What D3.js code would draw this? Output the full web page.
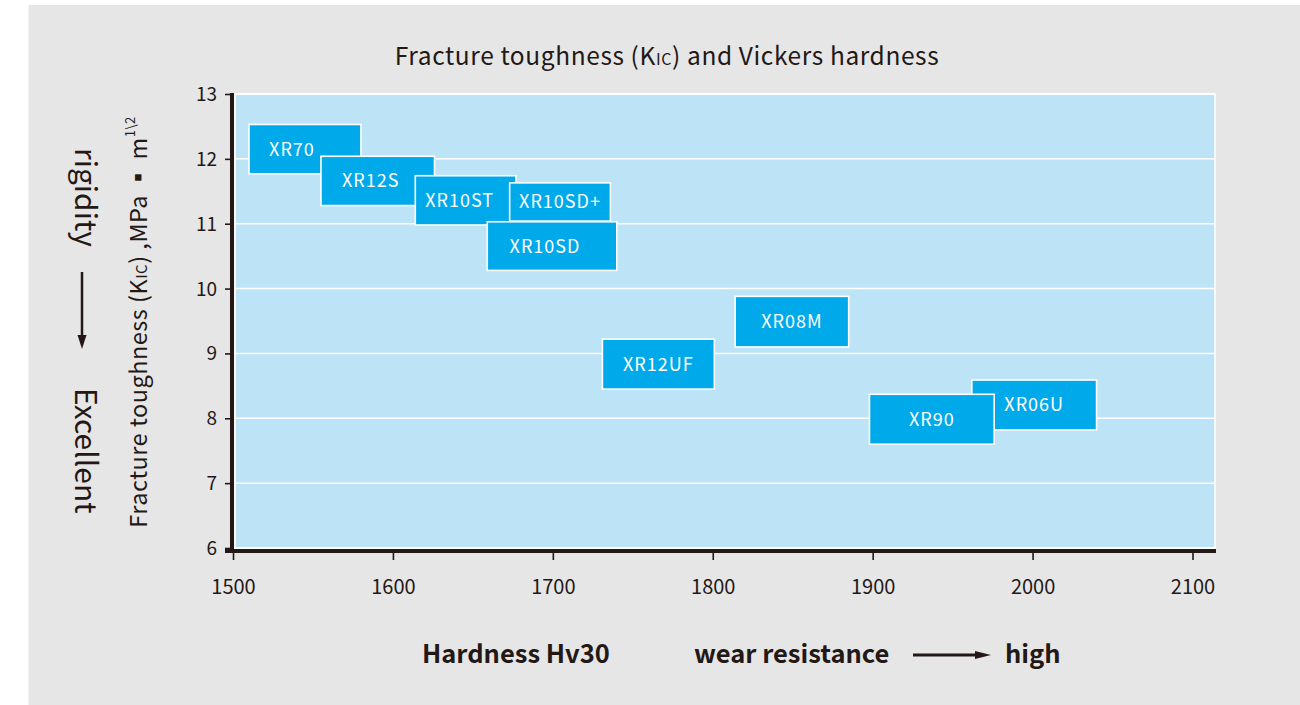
<!DOCTYPE html>
<html>
<head>
<meta charset="utf-8">
<script src="https://cdn.jsdelivr.net/npm/d3@7"></script>
<style>
  html, body { margin: 0; padding: 0; background: #ffffff; }
  svg { display: block; }
  text { font-family: "Noto Sans CJK SC", "Noto Sans", sans-serif; }
</style>
</head>
<body>
<svg id="chart" width="1300" height="705"></svg>
<script>
// ---------------- data ----------------
const grades   = ["XR70", "XR12S", "XR10ST", "XR10SD+", "XR10SD", "XR12UF", "XR08M", "XR06U", "XR90"];
const hvLow    = [1510, 1555, 1614, 1673, 1659, 1731, 1814, 1962, 1898];
const hvHigh   = [1580, 1626, 1677, 1736, 1740, 1801, 1885, 2040, 1976];
const kicLow   = [11.77, 11.28, 10.98, 11.04, 10.28, 8.45, 9.10, 7.82, 7.60];
const kicHigh  = [12.53, 12.04, 11.74, 11.63, 11.03, 9.22, 9.88, 8.59, 8.37];
const xTicks   = [1500, 1600, 1700, 1800, 1900, 2000, 2100];
const yTicks   = [6, 7, 8, 9, 10, 11, 12, 13];

// ---------------- layout / style ----------------
const labelNudge = { "XR70": -13, "XR12S": -7, "XR10ST": -6, "XR10SD": -7 };
const C = {
  panel: "#e6e6e6", plot: "#bde3f7", box: "#00a9ea", ink: "#231815", grid: "#ffffff"
};

const svg = d3.select("#chart");
svg.append("rect").attr("x", 28.5).attr("y", 5).attr("width", 1271.5).attr("height", 700).attr("fill", C.panel);

const x = d3.scaleLinear().domain([1500, 2100]).range([233, 1192.5]);
const y = d3.scaleLinear().domain([6, 13]).range([548, 94]);
const plotRight = 1215;

// plot background
svg.append("rect")
  .attr("x", x(1500) + 2).attr("y", y(13))
  .attr("width", plotRight - x(1500) - 2).attr("height", y(6) - y(13))
  .attr("fill", C.plot).attr("stroke", C.grid).attr("stroke-width", 1.5);

// horizontal grid lines
svg.append("g").selectAll("line").data(yTicks).join("line")
  .attr("x1", x(1500)).attr("x2", plotRight)
  .attr("y1", d => y(d)).attr("y2", d => y(d))
  .attr("stroke", C.grid).attr("stroke-width", 1.5);

// boxes
const recs = grades.map((g, i) => ({ g, h0: hvLow[i], h1: hvHigh[i], k0: kicLow[i], k1: kicHigh[i] }));
const boxG = svg.append("g");
recs.forEach(r => {
  const gg = boxG.append("g");
  gg.append("rect")
    .attr("x", x(r.h0)).attr("y", y(r.k1))
    .attr("width", x(r.h1) - x(r.h0)).attr("height", y(r.k0) - y(r.k1))
    .attr("fill", C.box).attr("stroke", "#ffffff").attr("stroke-width", 1.6);
  gg.append("text")
    .attr("x", (x(r.h0) + x(r.h1)) / 2 + (labelNudge[r.g] || 0))
    .attr("y", (y(r.k0) + y(r.k1)) / 2)
    .attr("dy", "0.36em")
    .attr("text-anchor", "middle")
    .attr("fill", "#ffffff")
    .attr("font-size", 18)
    .attr("letter-spacing", 1)
    .text(r.g);
});

// axes
const xAxis = d3.axisBottom(x).tickValues(xTicks).tickSize(7).tickFormat(d3.format("d"));
const xg = svg.append("g").attr("transform", "translate(0,553)").call(xAxis);
xg.select(".domain").remove();
xg.selectAll(".tick line").attr("stroke", C.ink).attr("stroke-width", 1.6);
xg.selectAll(".tick text").attr("fill", C.ink).attr("font-size", 20).attr("y", 41).attr("dy", 0)
  .style("font-family", "'Noto Sans CJK SC', sans-serif");

const yAxis = d3.axisLeft(y).tickValues(yTicks).tickSize(7).tickFormat(d3.format("d"));
const yg = svg.append("g").attr("transform", "translate(232,0)").call(yAxis);
yg.select(".domain").remove();
yg.selectAll(".tick line").attr("stroke", C.ink).attr("stroke-width", 1.6);
yg.selectAll(".tick text").attr("fill", C.ink).attr("font-size", 19).attr("x", -15).attr("dy", "0.34em")
  .style("font-family", "'Noto Sans CJK SC', sans-serif");

// axis lines
svg.append("line").attr("x1", 232).attr("x2", 232).attr("y1", y(13) - 1).attr("y2", 553)
  .attr("stroke", C.ink).attr("stroke-width", 4);
svg.append("line").attr("x1", 225).attr("x2", plotRight + 1).attr("y1", 551).attr("y2", 551)
  .attr("stroke", C.ink).attr("stroke-width", 4);

// title
const title = svg.append("text").attr("x", 667).attr("y", 65).attr("text-anchor", "middle")
  .attr("fill", C.ink).attr("font-size", 24.5).attr("letter-spacing", 0.6);
title.append("tspan").text("Fracture toughness (K");
title.append("tspan").attr("font-size", 16).text("IC");
title.append("tspan").text(") and Vickers hardness");

// y axis title
const yt = svg.append("text").attr("transform", "translate(147,322) rotate(-90)")
  .attr("text-anchor", "middle").attr("fill", C.ink).attr("font-size", 23.5).attr("letter-spacing", 0.5);
yt.append("tspan").text("Fracture toughness (K");
yt.append("tspan").attr("font-size", 15).text("IC");
yt.append("tspan").text(") ,MPa ▪ m");
yt.append("tspan").attr("font-size", 13).attr("dy", -12).text("1\\2");

// left side note
svg.append("text").attr("transform", "translate(75,148) rotate(90)")
  .attr("fill", C.ink).attr("font-size", 30).attr("font-weight", 400).text("rigidity");
svg.append("text").attr("transform", "translate(75,388) rotate(90)")
  .attr("fill", C.ink).attr("font-size", 30).attr("font-weight", 400).text("Excellent");

// arrows
svg.append("line").attr("x1", 82).attr("x2", 82).attr("y1", 272).attr("y2", 337)
  .attr("stroke", C.ink).attr("stroke-width", 2.5);
svg.append("path").attr("d", "M77.5,335 L86.5,335 L82,349 Z").attr("fill", C.ink);

svg.append("line").attr("x1", 913).attr("x2", 977).attr("y1", 655).attr("y2", 655)
  .attr("stroke", C.ink).attr("stroke-width", 3);
svg.append("path").attr("d", "M975,651 L975,659 L991,655 Z").attr("fill", C.ink);

// bottom labels
const bl = [["Hardness Hv30", 422], ["wear resistance", 694], ["high", 1005]];
bl.forEach(([t, px]) => {
  svg.append("text").attr("x", px).attr("y", 663).attr("fill", C.ink)
    .attr("font-size", 25.5).attr("font-weight", 700).text(t);
});
</script>
</body>
</html>
